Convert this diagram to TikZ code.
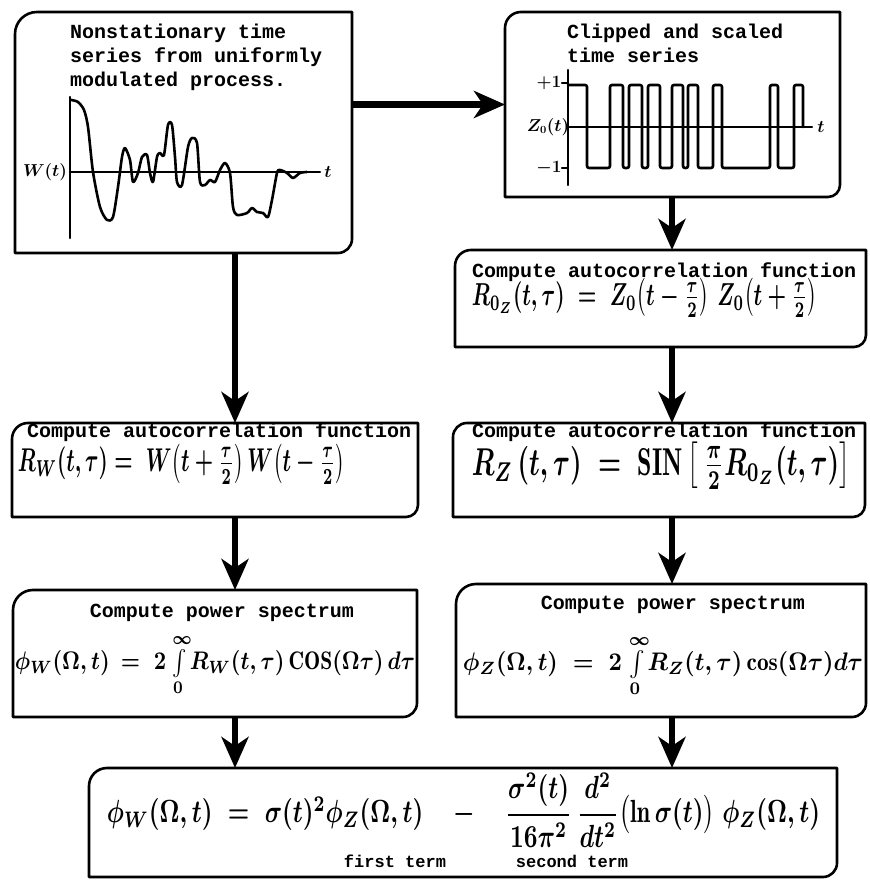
\documentclass[tikz,border=0pt]{standalone}
\usepackage{fontspec}
\usepackage{amsmath}
\newfontfamily\ttlfont{Liberation Mono}
\usetikzlibrary{arrows.meta,calc}
\tikzset{
  x=1pt,y=1pt,
  boxn/.style={draw=none,inner sep=0pt,outer sep=0pt},
  frame/.style={line width=2.6pt,line join=round,line cap=round},
  ttl/.style={inner sep=0pt,font=\ttlfont\bfseries\fontsize{20}{24}\selectfont},
  small/.style={inner sep=0pt,font=\ttlfont\bfseries\fontsize{17}{20}\selectfont},
  fml/.style={inner sep=0pt,font=\boldmath},
  lbl/.style={inner sep=0pt,font=\boldmath\fontsize{16}{18}\selectfont},
  flow/.style={line width=6.5pt,-{Stealth[length=31pt,width=27pt,inset=9pt]}},
  curve/.style={line width=2.6pt,line join=round,line cap=round},
  axis/.style={line width=2.4pt,line cap=round}
}
\newcommand\fcframe[3]{%
  \draw[frame] (#1.south west) -- ([yshift=-#2pt]#1.north west)
    arc[start angle=180,end angle=90,radius=#2pt] -- (#1.north east)
    -- ([yshift=#3pt]#1.south east)
    arc[start angle=0,end angle=-90,radius=#3pt] -- cycle;}
\newcommand\fitwh[3]{\resizebox{#1}{#2}{#3}}
\begin{document}
\begin{tikzpicture}
\fill[white] (0,0) rectangle (869,890);
\useasboundingbox (0,0) rectangle (869,890);

% boxes
\node[boxn,minimum width=337pt,minimum height=241pt] (b1) at (183.5,757.5) {};
\node[boxn,minimum width=335pt,minimum height=185pt] (b2) at (672.5,785.5) {};
\node[boxn,minimum width=411pt,minimum height=97pt] (b3) at (660.5,591.5) {};
\node[boxn,minimum width=406pt,minimum height=94pt] (b4) at (215,420) {};
\node[boxn,minimum width=412pt,minimum height=94pt] (b5) at (659,420) {};
\node[boxn,minimum width=404pt,minimum height=127pt] (b6) at (215,236.5) {};
\node[boxn,minimum width=410pt,minimum height=133pt] (b7) at (661,239.5) {};
\node[boxn,minimum width=748pt,minimum height=109pt] (b8) at (463,67.5) {};

\fcframe{b1}{22}{14}
\fcframe{b2}{16}{12}
\fcframe{b3}{16}{12}
\fcframe{b4}{16}{12}
\fcframe{b5}{14}{12}
\fcframe{b6}{20}{14}
\fcframe{b7}{20}{14}
\fcframe{b8}{18}{14}

% titles
\node[ttl,anchor=west,align=left] (t1) at (70,833) {Nonstationary time\\series from uniformly\\modulated process.};
\node[ttl,anchor=west,align=left] (t2) at (567,846.5) {Clipped and scaled\\time series};
\node[ttl,anchor=west] (t3) at (472,618) {Compute autocorrelation function};
\node[ttl,anchor=west] (t4) at (27,458) {Compute autocorrelation function};
\node[ttl,anchor=west] (t5) at (472,458) {Compute autocorrelation function};
\node[ttl] (t6) at (222,277) {Compute power spectrum};
\node[ttl] (t7) at (673,285) {Compute power spectrum};
\node[small] (t8a) at (395,29) {first term};
\node[small] (t8b) at (572,29) {second term};

% formulas
\node[fml] (f3) at (644.5,592) {\fitwh{345pt}{27pt}{$R_{0_Z}(t,\tau) \;=\; Z_0\!\left(t-\tfrac{\tau}{2}\right)\, Z_0\!\left(t+\tfrac{\tau}{2}\right)$}};
\node[fml] (f4) at (181.5,426) {\fitwh{327pt}{28pt}{$R_W(t,\tau) = \; W\!\left(t+\tfrac{\tau}{2}\right) W\!\left(t-\tfrac{\tau}{2}\right)$}};
\node[fml] (f5) at (661,424) {\fitwh{378pt}{33pt}{$R_Z\,(t,\tau) \;=\; \mathrm{SIN}\,\bigl[\,\tfrac{\pi}{2}R_{0_Z}(t,\tau)\bigr]$}};
\node[fml] (f6) at (215,225) {\resizebox*{400pt}{62pt}{$\phi_W(\Omega,t) \,=\; 2\int\limits_0^{\infty}\! R_W(t,\tau)\,\mathrm{COS}(\Omega\tau)\,d\tau$}};
\node[fml] (f7) at (663,224) {\resizebox*{400pt}{62pt}{$\phi_Z(\Omega,t) \;=\; 2\int\limits_0^{\infty}\! R_Z(t,\tau)\cos(\Omega\tau)d\tau$}};
\node[fml] (f8) at (463.5,80) {\fitwh{713pt}{50pt}{$\phi_W(\Omega,t) \;=\; \sigma(t)^2\phi_Z(\Omega,t) \quad-\quad \dfrac{\sigma^2(t)}{16\pi^2}\,\dfrac{d^2}{dt^2}\bigl(\ln\sigma(t)\bigr)\;\phi_Z(\Omega,t)$}};

% graph 1
\draw[axis] (70,793) -- (70,652);
\draw[axis] (70,718) -- (320,718);
\node[lbl] (w1) at (45,718) {$W(t)$};
\node[lbl] (w2) at (328,718) {$t$};
\draw[curve] plot[smooth,tension=0.45] coordinates {
(71,790) (78,788) (84,780) (88,763) (93,718) (100,683) (107,670) (113,673)
(118,703) (122,733) (125,742) (130,730) (133,708) (138,717) (142,733) (147,735)
(150,717) (153,708) (157,733) (160,737) (164,735) (168,765) (172,765) (175,733)
(177,708) (182,705) (188,743) (192,752) (197,747) (200,708) (205,705) (210,710)
(215,708) (220,720) (225,727) (230,717) (233,683) (237,675) (247,677) (252,682)
(257,678) (263,677) (268,673) (272,690) (277,717) (280,720) (287,717) (293,712)
(300,717) (307,718)};

% graph 2
\draw[axis] (568,820) -- (568,705);
\draw[axis] (568,763) -- (812,763);
\draw[axis] (562,807) -- (568,807);
\draw[axis] (562,722) -- (568,722);
\node[lbl] (p1) at (549,807) {$+1$};
\node[lbl] (m1) at (549,722) {$-1$};
\node[lbl] (z0) at (548,763) {$Z_0(t)$};
\node[lbl] (tt) at (821,763) {$t$};
\draw[curve,rounded corners=2pt] (568,805) -- (587,805) -- (587,722) -- (610,722) -- (610,805)
 -- (623,805) -- (623,722) -- (629,722) -- (629,805) -- (642,805) -- (642,722) -- (648,722)
 -- (648,805) -- (660,805) -- (660,722) -- (672,722) -- (672,805) -- (683,805) -- (683,722)
 -- (688,722) -- (688,805) -- (698,805) -- (698,722) -- (713,722) -- (713,805) -- (722,805)
 -- (722,722) -- (770,722) -- (770,805) -- (778,805) -- (778,722) -- (794,722) -- (794,805)
 -- (803,805) -- (803,763);

% connectors
\coordinate (lx) at (235,0);
\coordinate (rx) at (672,0);
\draw[flow] (b2.west -| b1.east) -- (b2.west);
\draw[flow] (b1.south -| lx) -- (b4.north -| lx);
\draw[flow] (b4.south -| lx) -- (b6.north -| lx);
\draw[flow] (b6.south -| lx) -- (b8.north -| lx);
\draw[flow] (b2.south -| rx) -- (b3.north -| rx);
\draw[flow] (b3.south -| rx) -- (b5.north -| rx);
\draw[flow] (b5.south -| rx) -- (b7.north -| rx);
\draw[flow] (b7.south -| rx) -- (b8.north -| rx);
\end{tikzpicture}
\end{document}
